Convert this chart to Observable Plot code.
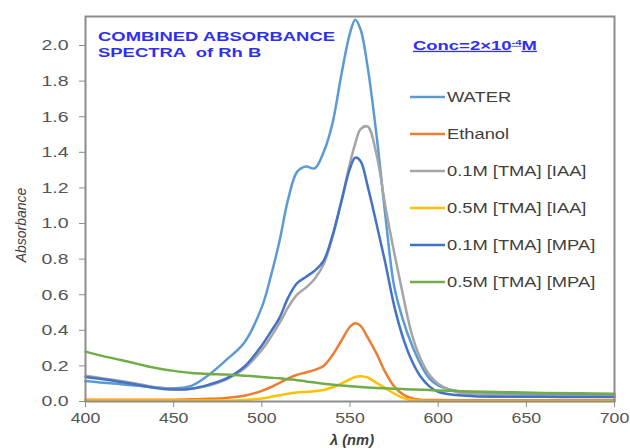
<!DOCTYPE html>
<html><head><meta charset="utf-8">
<script src="https://cdn.jsdelivr.net/npm/d3@7"></script>
<script src="https://cdn.jsdelivr.net/npm/@observablehq/plot@0.6"></script>
<style>body{margin:0;background:#fff}#chart{width:630px;height:448px}</style>
</head><body><div id="chart"></div>
<script>
const wavelengths = [400,410,420,430,440,450,460,470,480,490,500,505,510,515,520,525,530,535,540,545,550,553,556,560,565,570,575,580,585,590,595,600,610,620,640,660,680,700];
const water =   [0.115,0.105,0.097,0.088,0.079,0.074,0.088,0.15,0.235,0.33,0.53,0.70,0.90,1.14,1.29,1.32,1.31,1.40,1.56,1.83,2.07,2.145,2.09,1.88,1.50,1.05,0.65,0.46,0.32,0.21,0.13,0.09,0.06,0.05,0.042,0.04,0.037,0.035];
const ethanol = [0.01,0.01,0.01,0.01,0.01,0.01,0.012,0.015,0.02,0.032,0.06,0.08,0.105,0.13,0.15,0.163,0.178,0.20,0.26,0.34,0.42,0.44,0.425,0.36,0.27,0.165,0.085,0.04,0.018,0.01,0.008,0.008,0.007,0.007,0.007,0.007,0.007,0.007];
const iaa01 =   [0.145,0.13,0.115,0.098,0.08,0.07,0.072,0.09,0.125,0.185,0.29,0.36,0.44,0.53,0.60,0.64,0.69,0.77,0.92,1.12,1.34,1.45,1.53,1.545,1.39,1.10,0.84,0.60,0.38,0.24,0.15,0.10,0.055,0.042,0.035,0.032,0.03,0.03];
const iaa05 =   [0.005,0.005,0.005,0.005,0.005,0.005,0.005,0.005,0.006,0.009,0.017,0.025,0.035,0.044,0.05,0.054,0.058,0.065,0.08,0.10,0.125,0.138,0.142,0.135,0.105,0.075,0.045,0.02,0.008,0.004,0.003,0.003,0.003,0.003,0.003,0.003,0.003,0.003];
const mpa01 =   [0.138,0.125,0.11,0.093,0.076,0.067,0.072,0.095,0.13,0.195,0.315,0.39,0.47,0.585,0.665,0.70,0.735,0.79,0.93,1.12,1.31,1.37,1.35,1.21,1.00,0.78,0.54,0.36,0.23,0.14,0.085,0.055,0.036,0.03,0.027,0.026,0.025,0.025];
const mpa05 =   [0.28,0.255,0.233,0.21,0.188,0.172,0.16,0.155,0.151,0.145,0.138,0.134,0.13,0.125,0.12,0.113,0.107,0.10,0.095,0.09,0.086,0.084,0.082,0.079,0.076,0.074,0.072,0.07,0.068,0.066,0.064,0.062,0.059,0.056,0.052,0.048,0.046,0.044];

const seriesNames = ["WATER","Ethanol","0.1M [TMA] [IAA]","0.5M [TMA] [IAA]","0.1M [TMA] [MPA]","0.5M [TMA] [MPA]"];
const seriesValues = [water, ethanol, iaa01, iaa05, mpa01, mpa05];
const seriesColors = ["#5B9BD5","#ED7D31","#A5A5A5","#FFC000","#4472C4","#70AD47"];
const xTicks = [400,450,500,550,600,650,700];
const yTicks = [0,0.2,0.4,0.6,0.8,1.0,1.2,1.4,1.6,1.8,2.0];
const titleLines = ["COMBINED ABSORBANCE","SPECTRA  of Rh B"];
const concText = ["Conc=2×10", "-4", "M"];
const yLabel = "Absorbance";
const xLabel = "λ (nm)";

const rows = [];
seriesValues.forEach((vals, k) => vals.forEach((v, i) => rows.push({series: seriesNames[k], wl: wavelengths[i], abs: v})));

const plot = Plot.plot({
  width: 630, height: 448,
  marginLeft: 85, marginRight: 16, marginTop: 16, marginBottom: 47,
  style: {fontFamily: "'Liberation Sans', Arial, sans-serif", fontSize: "15px", background: "#fff", color: "#595959"},
  x: {domain: [400, 700]},
  y: {domain: [0, 2.163]},
  color: {domain: seriesNames, range: seriesColors},
  marks: [
    Plot.line(rows, {x: "wl", y: "abs", z: "series", stroke: "series", strokeWidth: 2.5, curve: "catmull-rom"}),
    Plot.frame({stroke: "#8c8c8c", strokeWidth: 2}),
    Plot.axisX({ticks: xTicks, tickSize: 6, tickPadding: 5, stroke: "#8c8c8c", fill: "#555", label: null}),
    Plot.axisY({ticks: yTicks, tickSize: 6, tickPadding: 11, tickFormat: d3.format(".1f"), stroke: "#8c8c8c", fill: "#555", label: null})
  ]
});
document.getElementById("chart").appendChild(plot);

const svg = d3.select(plot);
// widen tick labels horizontally (reference text is stretched)
svg.selectAll('g[aria-label="y-axis tick label"] text').each(function() {
  const t = this.getAttribute("transform") || "";
  this.setAttribute("transform", t + " scale(1.3,1)");
});
svg.selectAll('g[aria-label="x-axis tick label"] text').each(function() {
  const t = this.getAttribute("transform") || "";
  this.setAttribute("transform", t + " scale(1.18,1)");
});

const font = "'Liberation Sans', Arial, sans-serif";
// legend
const leg = svg.append("g").attr("font-family", font).attr("font-size", 14).attr("fill", "#404040").attr("text-anchor", "start");
seriesNames.forEach((name, i) => {
  const yy = 97 + i * 37;
  leg.append("line").attr("x1", 410).attr("x2", 445).attr("y1", yy).attr("y2", yy)
    .attr("stroke", seriesColors[i]).attr("stroke-width", 2.5);
  leg.append("text").attr("transform", `translate(447,${yy + 5}) scale(1.31,1)`).text(name);
});

// title
const tg = svg.append("g").attr("font-family", font).attr("font-size", 13).attr("font-weight", "bold").attr("fill", "#2f2ff2").attr("text-anchor", "start");
titleLines.forEach((line, i) => {
  tg.append("text").attr("transform", `translate(98,${41 + i * 16}) scale(1.42,1)`).style("white-space", "pre").text(line);
});
const ct = tg.append("text").attr("transform", "translate(413,50) scale(1.42,1)").style("text-decoration", "underline");
ct.append("tspan").text(concText[0]);
ct.append("tspan").attr("font-size", 8).attr("dy", -5).text(concText[1]);
ct.append("tspan").attr("dy", 5).text(concText[2]);

// axis labels
svg.append("text").attr("transform", "translate(26,225) rotate(-90)").attr("text-anchor", "middle")
  .attr("font-family", font).attr("font-size", 14).attr("font-style", "italic").attr("fill", "#404040").text(yLabel);
svg.append("text").attr("transform", "translate(352,445) scale(1.05,1)").attr("text-anchor", "middle")
  .attr("font-family", font).attr("font-size", 14).attr("font-style", "italic").attr("font-weight", "bold").attr("fill", "#404040").text(xLabel);
</script></body></html>
